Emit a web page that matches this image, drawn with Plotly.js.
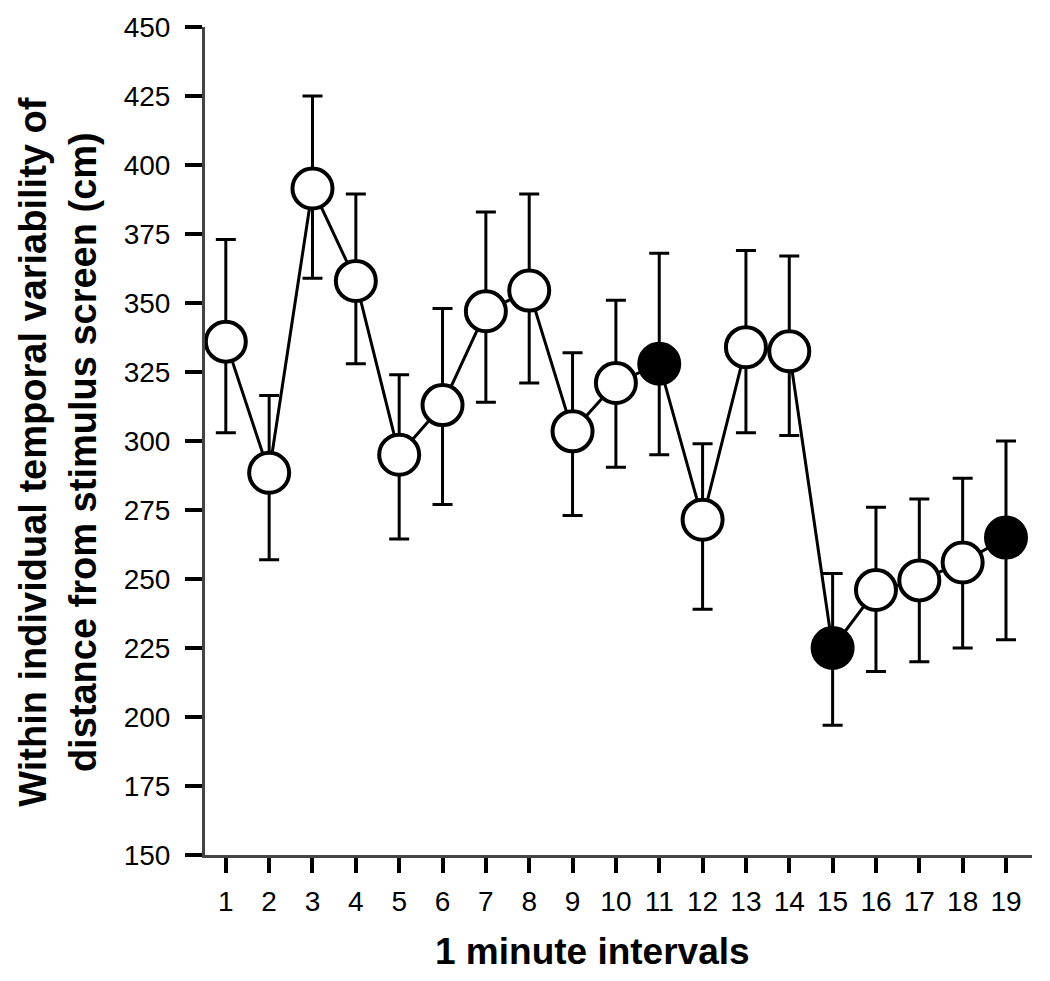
<!DOCTYPE html>
<html>
<head>
<meta charset="utf-8">
<script src="https://cdn.plot.ly/plotly-3.0.1.min.js"></script>
<style>
  html, body { margin: 0; padding: 0; background: #fff; }
  #chart { width: 1050px; height: 981px; }
</style>
</head>
<body>
<div id="chart"></div>
<script>
// Data
var intervals = [1, 2, 3, 4, 5, 6, 7, 8, 9, 10, 11, 12, 13, 14, 15, 16, 17, 18, 19];
var meanValues = [336, 288.5, 391.5, 358, 295, 313, 347, 354.5, 303.5, 321, 328, 271.5, 334, 332.5, 225, 246, 249.5, 256, 265];
var upperBounds = [373, 316.5, 425, 389.5, 324, 348, 383, 389.5, 332, 351, 368, 299, 369, 367, 252, 276, 279, 286.5, 300];
var lowerBounds = [303, 257, 359, 328, 264.5, 277, 314, 321, 273, 290.5, 295, 239, 303, 302, 197, 216.5, 220, 225, 228];
var filledPoint = [false, false, false, false, false, false, false, false, false, false, true, false, false, false, true, false, false, false, true];
var xTickLabels = ["1","2","3","4","5","6","7","8","9","10","11","12","13","14","15","16","17","18","19"];
var yTickValues = [150, 175, 200, 225, 250, 275, 300, 325, 350, 375, 400, 425, 450];
var xTitle = '1 minute intervals';
var yTitle = 'Within individual temporal variability of<br>distance from stimulus screen (cm)';

var errPlus = meanValues.map(function (m, i) { return upperBounds[i] - m; });
var errMinus = meanValues.map(function (m, i) { return m - lowerBounds[i]; });
var fillColors = filledPoint.map(function (f) { return f ? '#000000' : '#ffffff'; });

var FONT = '"Liberation Sans", Arial, sans-serif';

var trace = {
  x: intervals,
  y: meanValues,
  type: 'scatter',
  mode: 'lines+markers',
  line: { color: '#000', width: 3 },
  marker: {
    symbol: 'circle',
    size: 40,
    color: fillColors,
    line: { color: '#000', width: 4 }
  },
  error_y: {
    type: 'data',
    symmetric: false,
    array: errPlus,
    arrayminus: errMinus,
    color: '#000',
    thickness: 3,
    width: 10
  },
  hoverinfo: 'x+y',
  showlegend: false
};

var layout = {
  width: 1050,
  height: 981,
  margin: { l: 205, r: 18, t: 27, b: 126 },
  paper_bgcolor: '#fff',
  plot_bgcolor: '#fff',
  font: { family: FONT, color: '#000', size: 28 },
  showlegend: false,
  xaxis: {
    range: [0.52, 19.6],
    tickmode: 'array',
    tickvals: intervals,
    ticktext: xTickLabels,
    ticks: 'outside',
    ticklen: 15,
    tickwidth: 4,
    tickcolor: '#000',
    ticklabelstandoff: 4,
    showline: true,
    linecolor: '#444',
    linewidth: 3,
    showgrid: false,
    zeroline: false,
    tickfont: { family: FONT, size: 28, color: '#000' },
    automargin: false
  },
  yaxis: {
    range: [150, 450],
    tickmode: 'array',
    tickvals: yTickValues,
    ticks: 'outside',
    ticklen: 17,
    tickwidth: 4,
    tickcolor: '#000',
    ticklabelstandoff: 9,
    showline: true,
    linecolor: '#444',
    linewidth: 3,
    showgrid: false,
    zeroline: false,
    tickfont: { family: FONT, size: 28, color: '#000' },
    automargin: false
  },
  annotations: [
    {
      text: xTitle,
      xref: 'paper', yref: 'paper',
      x: 0.469, y: -0.117,
      xanchor: 'center', yanchor: 'middle',
      showarrow: false,
      font: { family: FONT, size: 37, color: '#000', weight: 'bold' }
    },
    {
      text: yTitle,
      xref: 'paper', yref: 'paper',
      x: -0.1778, y: 0.487,
      xanchor: 'center', yanchor: 'middle',
      textangle: -90,
      showarrow: false,
      font: { family: FONT, size: 38, color: '#000', weight: 'bold' }
    }
  ]
};

Plotly.newPlot('chart', [trace], layout, { staticPlot: true, displayModeBar: false });
</script>
</body>
</html>
